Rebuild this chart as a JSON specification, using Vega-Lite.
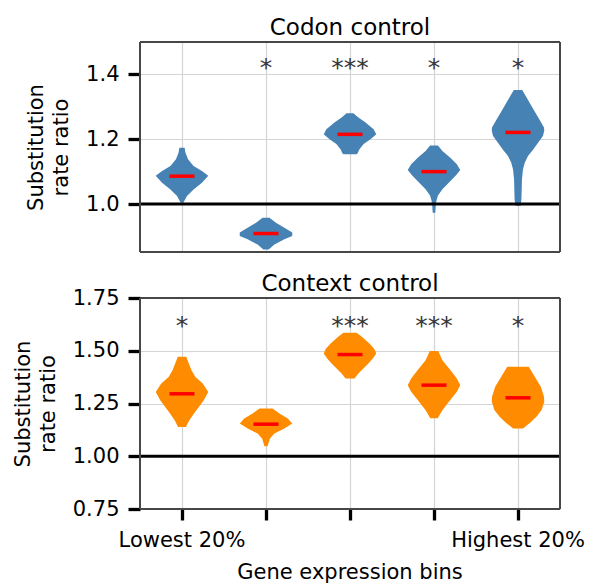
{
  "$schema": "https://vega.github.io/schema/vega-lite/v6.json",
  "background": "white",
  "padding": {"left": 12, "top": 17, "right": 5, "bottom": 5},
  "config": {
    "font": "DejaVu Sans",
    "view": {"stroke": null},
    "axis": {"labelFont": "DejaVu Sans", "labelFontSize": 21, "labelColor": "black", "titleFont": "DejaVu Sans", "titleFontSize": 21, "titleFontWeight": "normal", "titleColor": "black", "gridColor": "#d4d4d4", "gridWidth": 1.2, "gridOpacity": 1, "tickColor": "black", "domain": false},
    "header": {"labelFont": "DejaVu Sans", "labelFontSize": 21, "labelColor": "black", "titleFont": "DejaVu Sans", "titleFontSize": 23, "titleFontWeight": "normal", "titleColor": "black", "labelLimit": 0}
  },
  "datasets": {
    "codon": [
      {"bin": 1, "kind": "shape", "v": 1.174, "w": 0.1}, {"bin": 1, "kind": "shape", "v": 1.159, "w": 0.13}, {"bin": 1, "kind": "shape", "v": 1.138, "w": 0.23}, {"bin": 1, "kind": "shape", "v": 1.117, "w": 0.44}, {"bin": 1, "kind": "shape", "v": 1.102, "w": 0.76}, {"bin": 1, "kind": "shape", "v": 1.087, "w": 1.0}, {"bin": 1, "kind": "shape", "v": 1.066, "w": 0.76}, {"bin": 1, "kind": "shape", "v": 1.045, "w": 0.44}, {"bin": 1, "kind": "shape", "v": 1.025, "w": 0.19}, {"bin": 1, "kind": "shape", "v": 1.004, "w": 0.05},
      {"bin": 2, "kind": "shape", "v": 0.958, "w": 0.13}, {"bin": 2, "kind": "shape", "v": 0.942, "w": 0.38}, {"bin": 2, "kind": "shape", "v": 0.927, "w": 0.7}, {"bin": 2, "kind": "shape", "v": 0.912, "w": 1.0}, {"bin": 2, "kind": "shape", "v": 0.901, "w": 1.0}, {"bin": 2, "kind": "shape", "v": 0.891, "w": 0.7}, {"bin": 2, "kind": "shape", "v": 0.875, "w": 0.32}, {"bin": 2, "kind": "shape", "v": 0.86, "w": 0.1},
      {"bin": 3, "kind": "shape", "v": 1.28, "w": 0.13}, {"bin": 3, "kind": "shape", "v": 1.267, "w": 0.32}, {"bin": 3, "kind": "shape", "v": 1.252, "w": 0.58}, {"bin": 3, "kind": "shape", "v": 1.231, "w": 0.9}, {"bin": 3, "kind": "shape", "v": 1.215, "w": 1.0}, {"bin": 3, "kind": "shape", "v": 1.2, "w": 0.78}, {"bin": 3, "kind": "shape", "v": 1.185, "w": 0.52}, {"bin": 3, "kind": "shape", "v": 1.169, "w": 0.36}, {"bin": 3, "kind": "shape", "v": 1.157, "w": 0.29}, {"bin": 3, "kind": "shape", "v": 1.154, "w": 0.25},
      {"bin": 4, "kind": "shape", "v": 1.181, "w": 0.15}, {"bin": 4, "kind": "shape", "v": 1.164, "w": 0.32}, {"bin": 4, "kind": "shape", "v": 1.143, "w": 0.62}, {"bin": 4, "kind": "shape", "v": 1.123, "w": 0.87}, {"bin": 4, "kind": "shape", "v": 1.105, "w": 1.0}, {"bin": 4, "kind": "shape", "v": 1.088, "w": 0.83}, {"bin": 4, "kind": "shape", "v": 1.067, "w": 0.58}, {"bin": 4, "kind": "shape", "v": 1.046, "w": 0.32}, {"bin": 4, "kind": "shape", "v": 1.026, "w": 0.15}, {"bin": 4, "kind": "shape", "v": 1.009, "w": 0.09}, {"bin": 4, "kind": "shape", "v": 0.994, "w": 0.065}, {"bin": 4, "kind": "shape", "v": 0.973, "w": 0.05},
      {"bin": 5, "kind": "shape", "v": 1.352, "w": 0.16}, {"bin": 5, "kind": "shape", "v": 1.324, "w": 0.36}, {"bin": 5, "kind": "shape", "v": 1.293, "w": 0.58}, {"bin": 5, "kind": "shape", "v": 1.262, "w": 0.81}, {"bin": 5, "kind": "shape", "v": 1.236, "w": 0.99}, {"bin": 5, "kind": "shape", "v": 1.226, "w": 1.0}, {"bin": 5, "kind": "shape", "v": 1.21, "w": 0.95}, {"bin": 5, "kind": "shape", "v": 1.19, "w": 0.77}, {"bin": 5, "kind": "shape", "v": 1.168, "w": 0.58}, {"bin": 5, "kind": "shape", "v": 1.148, "w": 0.38}, {"bin": 5, "kind": "shape", "v": 1.128, "w": 0.26}, {"bin": 5, "kind": "shape", "v": 1.107, "w": 0.19}, {"bin": 5, "kind": "shape", "v": 1.076, "w": 0.15}, {"bin": 5, "kind": "shape", "v": 1.044, "w": 0.14}, {"bin": 5, "kind": "shape", "v": 1.015, "w": 0.13}, {"bin": 5, "kind": "shape", "v": 0.995, "w": 0.1},
      {"bin": 1, "kind": "median", "v": 1.086}, {"bin": 2, "kind": "median", "v": 0.909}, {"bin": 3, "kind": "median", "v": 1.215}, {"bin": 4, "kind": "median", "v": 1.1}, {"bin": 5, "kind": "median", "v": 1.221},
      {"bin": 2, "kind": "sig", "v": 1.394, "label": "*"}, {"bin": 3, "kind": "sig", "v": 1.394, "label": "***"}, {"bin": 4, "kind": "sig", "v": 1.394, "label": "*"}, {"bin": 5, "kind": "sig", "v": 1.394, "label": "*"}
    ],
    "context": [
      {"bin": 1, "kind": "shape", "v": 1.471, "w": 0.16}, {"bin": 1, "kind": "shape", "v": 1.439, "w": 0.26}, {"bin": 1, "kind": "shape", "v": 1.408, "w": 0.36}, {"bin": 1, "kind": "shape", "v": 1.376, "w": 0.51}, {"bin": 1, "kind": "shape", "v": 1.345, "w": 0.79}, {"bin": 1, "kind": "shape", "v": 1.305, "w": 1.0}, {"bin": 1, "kind": "shape", "v": 1.265, "w": 0.83}, {"bin": 1, "kind": "shape", "v": 1.234, "w": 0.64}, {"bin": 1, "kind": "shape", "v": 1.202, "w": 0.45}, {"bin": 1, "kind": "shape", "v": 1.171, "w": 0.28}, {"bin": 1, "kind": "shape", "v": 1.139, "w": 0.15},
      {"bin": 2, "kind": "shape", "v": 1.226, "w": 0.25}, {"bin": 2, "kind": "shape", "v": 1.203, "w": 0.51}, {"bin": 2, "kind": "shape", "v": 1.179, "w": 0.83}, {"bin": 2, "kind": "shape", "v": 1.155, "w": 1.0}, {"bin": 2, "kind": "shape", "v": 1.131, "w": 0.7}, {"bin": 2, "kind": "shape", "v": 1.108, "w": 0.32}, {"bin": 2, "kind": "shape", "v": 1.084, "w": 0.15}, {"bin": 2, "kind": "shape", "v": 1.06, "w": 0.09}, {"bin": 2, "kind": "shape", "v": 1.047, "w": 0.06},
      {"bin": 3, "kind": "shape", "v": 1.585, "w": 0.25}, {"bin": 3, "kind": "shape", "v": 1.566, "w": 0.45}, {"bin": 3, "kind": "shape", "v": 1.534, "w": 0.74}, {"bin": 3, "kind": "shape", "v": 1.51, "w": 0.92}, {"bin": 3, "kind": "shape", "v": 1.487, "w": 1.0}, {"bin": 3, "kind": "shape", "v": 1.463, "w": 0.87}, {"bin": 3, "kind": "shape", "v": 1.44, "w": 0.7}, {"bin": 3, "kind": "shape", "v": 1.416, "w": 0.51}, {"bin": 3, "kind": "shape", "v": 1.392, "w": 0.32}, {"bin": 3, "kind": "shape", "v": 1.368, "w": 0.17},
      {"bin": 4, "kind": "shape", "v": 1.499, "w": 0.16}, {"bin": 4, "kind": "shape", "v": 1.455, "w": 0.32}, {"bin": 4, "kind": "shape", "v": 1.409, "w": 0.62}, {"bin": 4, "kind": "shape", "v": 1.369, "w": 0.87}, {"bin": 4, "kind": "shape", "v": 1.337, "w": 1.0}, {"bin": 4, "kind": "shape", "v": 1.306, "w": 0.87}, {"bin": 4, "kind": "shape", "v": 1.266, "w": 0.62}, {"bin": 4, "kind": "shape", "v": 1.218, "w": 0.32}, {"bin": 4, "kind": "shape", "v": 1.18, "w": 0.14},
      {"bin": 5, "kind": "shape", "v": 1.424, "w": 0.41}, {"bin": 5, "kind": "shape", "v": 1.377, "w": 0.64}, {"bin": 5, "kind": "shape", "v": 1.329, "w": 0.87}, {"bin": 5, "kind": "shape", "v": 1.282, "w": 0.99}, {"bin": 5, "kind": "shape", "v": 1.258, "w": 1.0}, {"bin": 5, "kind": "shape", "v": 1.219, "w": 0.9}, {"bin": 5, "kind": "shape", "v": 1.187, "w": 0.7}, {"bin": 5, "kind": "shape", "v": 1.158, "w": 0.45}, {"bin": 5, "kind": "shape", "v": 1.132, "w": 0.19},
      {"bin": 1, "kind": "median", "v": 1.296}, {"bin": 2, "kind": "median", "v": 1.152}, {"bin": 3, "kind": "median", "v": 1.482}, {"bin": 4, "kind": "median", "v": 1.337}, {"bin": 5, "kind": "median", "v": 1.277},
      {"bin": 1, "kind": "sig", "v": 1.578, "label": "*"}, {"bin": 3, "kind": "sig", "v": 1.578, "label": "***"}, {"bin": 4, "kind": "sig", "v": 1.578, "label": "***"}, {"bin": 5, "kind": "sig", "v": 1.578, "label": "*"}
    ]
  },
  "spacing": 20,
  "vconcat": [
    {
      "data": {"name": "codon"},
      "facet": {"column": {"field": "bin", "type": "ordinal", "title": "Codon control", "header": {"labels": false, "titleOrient": "top", "titlePadding": -8}}},
      "spacing": 0,
      "bounds": "flush",
      "spec": {
        "width": 84,
        "height": 210,
        "layer": [
          {
            "transform": [{"filter": "datum.kind == 'shape'"}],
            "mark": {"type": "area", "orient": "horizontal", "color": "#4682b4", "opacity": 1},
            "encoding": {
              "y": {"field": "v", "type": "quantitative", "scale": {"domain": [0.852, 1.5], "nice": false, "zero": false}, "axis": {"values": [1.0, 1.2, 1.4], "format": ".1f", "grid": true, "tickSize": 12, "tickWidth": 3.3, "labelPadding": 9, "titlePadding": 14, "title": ["Substitution", "rate ratio"], "titleLineHeight": 25}},
              "x": {"field": "w", "type": "quantitative", "stack": "center", "impute": null, "scale": {"domain": [-0.3, 1.3], "nice": false, "zero": false}, "axis": {"values": [0.5], "grid": true, "ticks": false, "labels": false, "title": null}}
            }
          },
          {
            "transform": [{"filter": "datum.kind == 'median'"}],
            "mark": {"type": "rule", "color": "black", "strokeWidth": 3},
            "encoding": {"y": {"datum": 1, "type": "quantitative"}}
          },
          {
            "transform": [{"filter": "datum.kind == 'median'"}],
            "mark": {"type": "tick", "color": "red", "orient": "horizontal", "size": 25, "thickness": 3.5, "opacity": 1},
            "encoding": {"y": {"field": "v", "type": "quantitative"}}
          },
          {
            "transform": [{"filter": "datum.kind == 'sig'"}],
            "mark": {"type": "text", "fontSize": 25, "color": "#383838", "baseline": "alphabetic", "align": "center"},
            "encoding": {"y": {"field": "v", "type": "quantitative"}, "text": {"field": "label"}}
          },
          {
            "transform": [{"filter": "datum.kind == 'median'"}],
            "mark": {"type": "rule", "color": "#474747", "strokeWidth": 2},
            "encoding": {"y": {"datum": 1.5, "type": "quantitative"}}
          },
          {
            "transform": [{"filter": "datum.kind == 'median'"}],
            "mark": {"type": "rule", "color": "#474747", "strokeWidth": 2},
            "encoding": {"y": {"datum": 0.852, "type": "quantitative"}}
          },
          {
            "transform": [{"filter": "datum.kind == 'median' && datum.bin == 1"}],
            "mark": {"type": "rule", "color": "#474747", "strokeWidth": 2},
            "encoding": {"x": {"datum": -0.3, "type": "quantitative"}}
          },
          {
            "transform": [{"filter": "datum.kind == 'median' && datum.bin == 5"}],
            "mark": {"type": "rule", "color": "#474747", "strokeWidth": 2},
            "encoding": {"x": {"datum": 1.3, "type": "quantitative"}}
          }
        ]
      }
    },
    {
      "data": {"name": "context"},
      "facet": {"column": {"field": "bin", "type": "ordinal", "title": "Context control", "header": {"titleOrient": "top", "titlePadding": -8, "labelOrient": "bottom", "labelBaseline": "top", "labelLineHeight": 32, "labelExpr": "datum.value == 1 ? 'Lowest 20%' : (datum.value == 5 ? 'Highest 20%' : (datum.value == 3 ? ['', 'Gene expression bins'] : ''))", "labelPadding": 8}}},
      "spacing": 0,
      "bounds": "flush",
      "spec": {
        "width": 84,
        "height": 211,
        "layer": [
          {
            "transform": [{"filter": "datum.kind == 'shape'"}],
            "mark": {"type": "area", "orient": "horizontal", "color": "#ff8c00", "opacity": 1},
            "encoding": {
              "y": {"field": "v", "type": "quantitative", "scale": {"domain": [0.75, 1.75], "nice": false, "zero": false}, "axis": {"values": [0.75, 1.0, 1.25, 1.5, 1.75], "format": ".2f", "grid": true, "tickSize": 12, "tickWidth": 3.3, "labelPadding": 9, "titlePadding": 14, "title": ["Substitution", "rate ratio"], "titleLineHeight": 25}},
              "x": {"field": "w", "type": "quantitative", "stack": "center", "impute": null, "scale": {"domain": [-0.3, 1.3], "nice": false, "zero": false}, "axis": {"values": [0.5], "grid": true, "ticks": true, "tickSize": 11, "tickWidth": 3.3, "labels": false, "title": null}}
            }
          },
          {
            "transform": [{"filter": "datum.kind == 'median'"}],
            "mark": {"type": "rule", "color": "black", "strokeWidth": 3},
            "encoding": {"y": {"datum": 1, "type": "quantitative"}}
          },
          {
            "transform": [{"filter": "datum.kind == 'median'"}],
            "mark": {"type": "tick", "color": "red", "orient": "horizontal", "size": 25, "thickness": 3.5, "opacity": 1},
            "encoding": {"y": {"field": "v", "type": "quantitative"}}
          },
          {
            "transform": [{"filter": "datum.kind == 'sig'"}],
            "mark": {"type": "text", "fontSize": 25, "color": "#383838", "baseline": "alphabetic", "align": "center"},
            "encoding": {"y": {"field": "v", "type": "quantitative"}, "text": {"field": "label"}}
          },
          {
            "transform": [{"filter": "datum.kind == 'median'"}],
            "mark": {"type": "rule", "color": "#474747", "strokeWidth": 2},
            "encoding": {"y": {"datum": 1.75, "type": "quantitative"}}
          },
          {
            "transform": [{"filter": "datum.kind == 'median'"}],
            "mark": {"type": "rule", "color": "#474747", "strokeWidth": 2},
            "encoding": {"y": {"datum": 0.75, "type": "quantitative"}}
          },
          {
            "transform": [{"filter": "datum.kind == 'median' && datum.bin == 1"}],
            "mark": {"type": "rule", "color": "#474747", "strokeWidth": 2},
            "encoding": {"x": {"datum": -0.3, "type": "quantitative"}}
          },
          {
            "transform": [{"filter": "datum.kind == 'median' && datum.bin == 5"}],
            "mark": {"type": "rule", "color": "#474747", "strokeWidth": 2},
            "encoding": {"x": {"datum": 1.3, "type": "quantitative"}}
          }
        ]
      }
    }
  ]
}
